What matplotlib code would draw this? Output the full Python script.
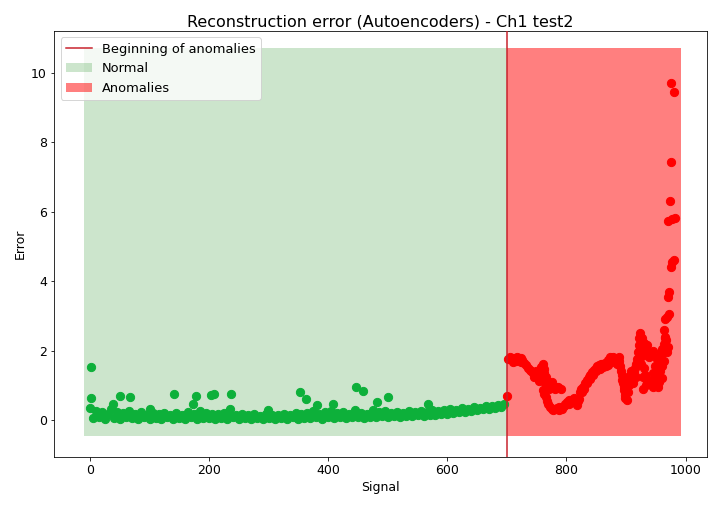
import numpy as np
import matplotlib.pyplot as plt

#__ Data ___________________________________________
# normal part: one value every 5 samples (0..695)
normal_step = 5
normal_err = [0.35, 0.05, 0.26, 0.08, 0.22, 0.03, 0.18, 0.30, 0.06, 0.24,
              0.04, 0.20, 0.08, 0.26, 0.05, 0.17, 0.03, 0.22, 0.07, 0.15,
              0.04, 0.21, 0.06, 0.16, 0.03, 0.19, 0.07, 0.13, 0.04, 0.20,
              0.05, 0.15, 0.03, 0.23, 0.08, 0.17, 0.04, 0.25, 0.06, 0.21,
              0.05, 0.18, 0.03, 0.16, 0.06, 0.20, 0.04, 0.15, 0.07, 0.13,
              0.03, 0.17, 0.05, 0.14, 0.04, 0.16, 0.06, 0.12, 0.03, 0.18,
              0.05, 0.15, 0.04, 0.13, 0.06, 0.17, 0.03, 0.14, 0.07, 0.19,
              0.04, 0.16, 0.06, 0.21, 0.05, 0.25, 0.08, 0.18, 0.04, 0.22,
              0.07, 0.27, 0.05, 0.20, 0.08, 0.24, 0.06, 0.17, 0.09, 0.28,
              0.07, 0.21, 0.05, 0.18, 0.09, 0.29, 0.08, 0.22, 0.10, 0.26,
              0.08, 0.20, 0.11, 0.24, 0.09, 0.21, 0.12, 0.25, 0.10, 0.22,
              0.13, 0.27, 0.12, 0.24, 0.15, 0.28, 0.14, 0.26, 0.17, 0.29,
              0.18, 0.31, 0.20, 0.29, 0.22, 0.34, 0.24, 0.32, 0.26, 0.37,
              0.28, 0.35, 0.30, 0.40, 0.32, 0.41, 0.35, 0.44, 0.38, 0.46]
# isolated spikes in the normal part
spike_x = [2, 2, 50, 67, 141, 178, 203, 208, 237, 353, 363, 447, 459, 482,
           501, 39, 173, 101, 235, 299, 381, 408, 568]
spike_err = [1.53, 0.63, 0.69, 0.66, 0.75, 0.69, 0.72, 0.76, 0.75, 0.81, 0.61,
             0.95, 0.84, 0.52, 0.66, 0.46, 0.46, 0.32, 0.32, 0.28, 0.43, 0.46,
             0.46]

# anomaly part
anom_x = [700, 702, 705, 708, 711, 714, 717, 720, 723, 726, 729, 732, 735,
          738, 741, 744, 747, 750, 752, 754, 756, 758, 760, 762, 763, 765,
          764, 767, 770, 774, 778, 782, 786, 761, 763, 765, 767, 769, 772,
          775, 778, 781, 784, 788, 792, 795, 798, 801, 804, 807, 810, 813,
          816, 819, 821, 823, 825, 828, 831, 834, 837, 840, 843, 846, 849,
          852, 855, 858, 861, 864, 867, 870, 873, 876, 879, 882, 885, 888,
          890, 892, 893, 894, 895, 896, 897, 898, 899, 901, 903, 905, 907,
          909, 911, 913, 915, 917, 919, 920, 921, 922, 923, 926, 929, 932,
          935, 930, 932, 934, 937, 940, 943, 946, 949, 951, 953, 955, 957,
          959, 961, 963, 965, 967, 925, 928, 929, 933, 938, 942, 946, 946,
          950, 953, 955, 958, 961, 966, 970, 963, 966, 969, 972, 970, 972,
          975, 978, 980, 971, 978, 982, 973, 976, 975, 980,
          710, 716, 724, 745, 748, 770, 775, 780, 790, 788, 793, 805, 812,
          818, 826, 830, 835, 840, 845, 850, 856, 862, 866, 870, 874, 878,
          884, 888, 903, 908, 912, 916, 924, 927, 936, 944, 948, 952, 957,
          960, 964, 968]
anom_err = [0.68, 1.76, 1.80, 1.78, 1.74, 1.77, 1.80, 1.79, 1.78, 1.72, 1.64,
            1.57, 1.50, 1.44, 1.40, 1.36, 1.33, 1.28, 1.20, 1.12, 1.40, 1.52,
            1.62, 1.48, 1.35, 1.25, 1.05, 1.02, 1.00, 1.03, 0.98, 0.96, 0.94,
            0.85, 0.75, 0.65, 0.55, 0.46, 0.38, 0.31, 0.28, 0.30, 0.33, 0.36,
            0.38, 0.40, 0.47, 0.52, 0.56, 0.58, 0.57, 0.52, 0.50, 0.55, 0.60,
            0.80, 0.90, 0.95, 1.05, 1.15, 1.25, 1.30, 1.38, 1.45, 1.50, 1.55,
            1.58, 1.60, 1.62, 1.63, 1.65, 1.72, 1.80, 1.78, 1.72, 1.68, 1.75,
            1.70, 1.55, 1.40, 1.28, 1.15, 1.05, 0.95, 0.85, 0.72, 0.62, 0.58,
            0.80, 1.00, 1.15, 1.30, 1.20, 1.35, 1.50, 1.62, 1.75, 1.95, 2.15,
            2.35, 2.50, 2.35, 2.25, 2.20, 2.15, 1.50, 1.30, 1.18, 1.10, 1.05,
            1.00, 0.95, 1.10, 1.30, 1.50, 1.70, 1.85, 1.95, 2.05, 2.20, 2.35,
            2.30, 1.60, 1.25, 0.88, 1.00, 1.80, 1.90, 2.00, 1.35, 1.20, 0.95,
            1.10, 1.88, 1.55, 2.40, 2.10, 2.60, 2.90, 2.98, 3.05, 3.55, 3.70,
            4.40, 4.55, 4.62, 5.72, 5.78, 5.82, 6.32, 7.42, 9.72, 9.45,
            1.66, 1.70, 1.68, 1.25, 1.42, 0.90, 1.08, 0.88, 0.90, 0.28, 0.30,
            0.45, 0.62, 0.42, 0.80, 0.90, 1.05, 1.18, 1.30, 1.42, 1.48, 1.52,
            1.55, 1.58, 1.68, 1.82, 1.62, 1.80, 1.25, 1.40, 1.05, 1.25, 2.05,
            1.85, 1.95, 1.15, 1.55, 1.75, 1.40, 1.20, 1.70, 1.95]

start_normal = -10
start_anom = 700
end_signal = 992

normal_x = np.arange(len(normal_err)) * normal_step
all_err = normal_err + spike_err + anom_err
lo = min(all_err) - 0.5
hi = max(all_err) + 1

plt.rcParams['font.size'] = 12.5

fig = plt.figure(figsize=(10, 507/72), dpi=72)
ax = fig.add_axes([0.075, 0.0986, 0.907, 0.8403])

h_norm = ax.fill_between([start_normal, start_anom], lo, hi, color='green', alpha=0.2, label='Normal', lw=0)
h_anom = ax.fill_between([start_anom, end_signal], lo, hi, color='red', alpha=0.5, label='Anomalies', lw=0)
ax.scatter(normal_x, normal_err, s=68, color='#0db03a', zorder=3)
ax.scatter(spike_x, spike_err, s=68, color='#0db03a', zorder=3)
ax.scatter(anom_x, anom_err, s=68, color='#ff0000', zorder=3)
h_line = ax.axvline(start_anom, color='#c8202a', lw=1.5, label='Beginning of anomalies', zorder=4)

ax.set_xlim(-60.5, 1036)
ax.set_ylim(-1.07, 11.21)
ax.set_title("Reconstruction error (Autoencoders) - Ch1 test2", fontsize=16, pad=4)
ax.set_xlabel("Signal")
ax.set_ylabel("Error")
ax.set_xticks([0, 200, 400, 600, 800, 1000])
ax.set_yticks([0, 2, 4, 6, 8, 10])
ax.legend(handles=[h_line, h_norm, h_anom], loc='upper left', fontsize=13)

plt.savefig("out.png", dpi=72)
